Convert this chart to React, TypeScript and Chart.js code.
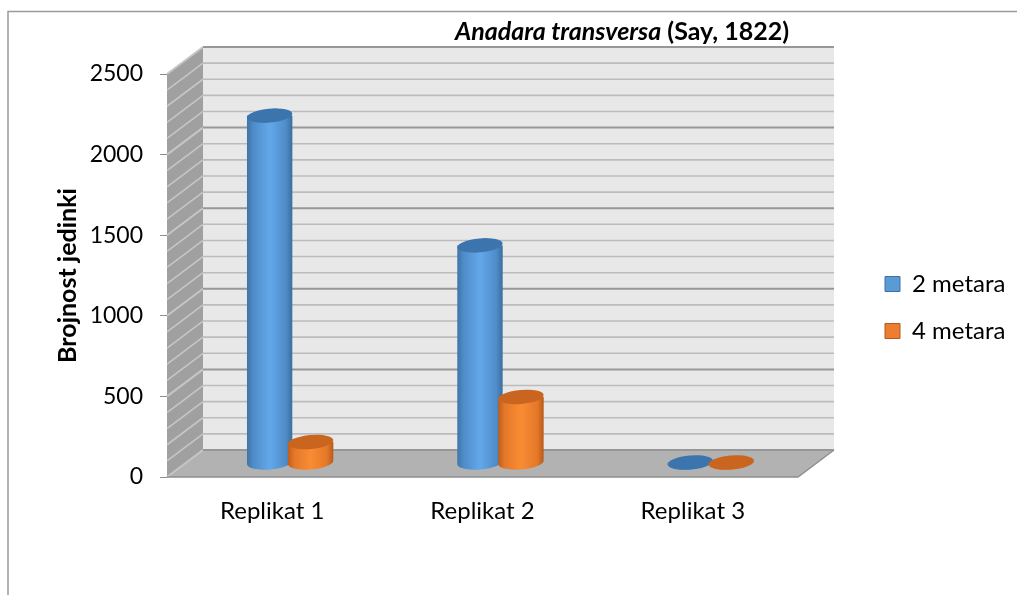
import React, { useEffect, useRef } from "react";
import { Chart, registerables } from "chart.js";

Chart.register(...registerables);

const categories = ["Replikat 1", "Replikat 2", "Replikat 3"];
const seriesNames = ["2 metara", "4 metara"];
const twoMetres = [2155, 1350, 3];
const fourMetres = [130, 410, 3];
const majorTicks = [0, 500, 1000, 1500, 2000, 2500];
const minorTicks = [100, 200, 300, 400, 600, 700, 800, 900, 1100, 1200, 1300, 1400, 1600, 1700, 1800, 1900, 2100, 2200, 2300, 2400];
const titleItalic = "Anadara transversa";
const titleRegular = " (Say, 1822)";
const yTitle = "Brojnost jedinki";

const FONT = "Lato, Carlito, sans-serif";
const DX = 36;
const DY = -27;
const BAR_DX = 18;
const BAR_DY = -14;
const TILT = -0.09;
const RY = 7;
const STOPS = [0, 0.14, 0.5, 0.86, 1];

const palette = [
  { stops: ["#3f74a8", "#4f8cc8", "#62a8ea", "#4f8cc8", "#3a6e9f"], top: "#3c74ad", solid: "#5B9BD5" },
  { stops: ["#c05d1a", "#e47829", "#f98c33", "#e47829", "#b85a1a"], top: "#c9651f", solid: "#ED7D31" },
];

const scenePlugin = {
  id: "scene",
  beforeDraw(chart: any) {
    const { ctx, scales, chartArea } = chart;
    const y = scales.y;
    const { left, right } = chartArea;
    const y0 = y.getPixelForValue(0);
    const yMax = y.getPixelForValue(2500);
    ctx.save();
    // frame
    ctx.strokeStyle = "#9a9a9a";
    ctx.lineWidth = 1.5;
    ctx.beginPath();
    ctx.moveTo(8, 595);
    ctx.lineTo(8, 11.5);
    ctx.lineTo(1017, 11.5);
    ctx.stroke();
    // back wall
    ctx.fillStyle = "#e8e8e8";
    ctx.fillRect(left + DX, yMax + DY, right - left, y0 - yMax);
    // side wall
    ctx.fillStyle = "#a0a0a0";
    ctx.beginPath();
    ctx.moveTo(left, yMax);
    ctx.lineTo(left + DX, yMax + DY);
    ctx.lineTo(left + DX, y0 + DY);
    ctx.lineTo(left, y0);
    ctx.closePath();
    ctx.fill();
    // floor
    ctx.fillStyle = "#b2b2b2";
    ctx.beginPath();
    ctx.moveTo(left, y0);
    ctx.lineTo(left + DX, y0 + DY);
    ctx.lineTo(right + DX, y0 + DY);
    ctx.lineTo(right, y0);
    ctx.closePath();
    ctx.fill();
    const line = (v: number, color: string, sideColor: string, w: number) => {
      const p = y.getPixelForValue(v);
      ctx.lineWidth = w;
      ctx.strokeStyle = sideColor;
      ctx.beginPath();
      ctx.moveTo(left, p);
      ctx.lineTo(left + DX, p + DY);
      ctx.stroke();
      ctx.strokeStyle = color;
      ctx.beginPath();
      ctx.moveTo(left + DX, p + DY);
      ctx.lineTo(right + DX, p + DY);
      ctx.stroke();
    };
    minorTicks.forEach((v) => line(v, "#bcbcbc", "#c6c6c6", 1.6));
    majorTicks.forEach((v) => line(v, "#979797", "#c6c6c6", 2));
    // floor edges
    ctx.lineWidth = 1.5;
    ctx.strokeStyle = "#8f8f8f";
    ctx.beginPath();
    ctx.moveTo(left, y0);
    ctx.lineTo(right, y0);
    ctx.lineTo(right + DX, y0 + DY);
    ctx.stroke();
    ctx.restore();
    // legend placement
    const legend = chart.legend;
    if (legend) {
      const w = legend.width;
      const h = legend.height;
      legend.left = 885 - 23;
      legend.top = 272 - 23;
      legend.right = legend.left + w + 20;
      legend.bottom = legend.top + h + 20;
    }
  },
  beforeDatasetsDraw(chart: any) {
    chart.ctx.save();
    chart.ctx.translate(BAR_DX, BAR_DY);
  },
  afterDatasetsDraw(chart: any) {
    const { ctx } = chart;
    [0, 1].forEach((d) => {
      const colors = palette[d];
      chart.getDatasetMeta(d).data.forEach((el: any) => {
        const { x, y, base, width } = el.getProps(["x", "y", "base", "width"], true);
        const rx = width / 2 + 2.2;
        const g = ctx.createLinearGradient(x - rx, 0, x + rx, 0);
        colors.stops.forEach((c: string, i: number) => g.addColorStop(STOPS[i], c));
        ctx.fillStyle = g;
        ctx.beginPath();
        ctx.moveTo(x - rx, y);
        ctx.lineTo(x - rx, base);
        ctx.ellipse(x, base, rx, RY, TILT, Math.PI, 0, true);
        ctx.lineTo(x + rx, y);
        ctx.closePath();
        ctx.fill();
        ctx.fillStyle = colors.top;
        ctx.beginPath();
        ctx.ellipse(x, y, rx, RY, TILT, 0, Math.PI * 2);
        ctx.fill();
      });
    });
    ctx.restore();
  },
  afterDraw(chart: any) {
    const { ctx } = chart;
    ctx.save();
    ctx.fillStyle = "#000";
    ctx.textBaseline = "alphabetic";
    ctx.textAlign = "left";
    ctx.font = `italic bold 25px ${FONT}`;
    ctx.fillText(titleItalic, 455, 40);
    const w = ctx.measureText(titleItalic).width;
    ctx.font = `bold 25px ${FONT}`;
    ctx.fillText(titleRegular, 455 + w, 40);
    ctx.restore();
  },
};

export default function App() {
  const ref = useRef<HTMLCanvasElement>(null);
  useEffect(() => {
    const chart = new Chart(ref.current!, {
      type: "bar",
      data: {
        labels: categories,
        datasets: [
          { label: seriesNames[0], data: twoMetres, backgroundColor: palette[0].solid, borderColor: "#41719c", borderWidth: 1, barThickness: 41, clip: false } as any,
          { label: seriesNames[1], data: fourMetres, backgroundColor: palette[1].solid, borderColor: "#ae5a21", borderWidth: 1, barThickness: 41, clip: false } as any,
        ],
      },
      plugins: [scenePlugin],
      options: {
        responsive: false,
        animation: false,
        layout: { padding: { left: 53, right: 219, top: 74, bottom: 58 } },
        plugins: {
          tooltip: { enabled: false },
          title: { display: false },
          legend: {
            position: "chartArea" as any,
            align: "start",
            labels: {
              boxWidth: 15,
              boxHeight: 15,
              padding: 23,
              color: "#000",
              font: { family: FONT, size: 24 },
            },
          },
        },
        scales: {
          x: {
            grid: { display: false },
            border: { display: false },
            ticks: { color: "#000", font: { family: FONT, size: 24 }, padding: 12 },
            afterFit: (s: any) => { s.height = 60; },
          },
          y: {
            min: 0,
            max: 2500,
            grid: { drawOnChartArea: false, color: "#8f8f8f", tickLength: 7 },
            border: { display: false },
            ticks: {
              stepSize: 500,
              color: "#000",
              font: { family: FONT, size: 23 },
              padding: 17,
              callback: (v: any) => String(v),
            },
            title: { display: true, text: yTitle, color: "#000", font: { family: FONT, size: 25, weight: "bold" }, padding: 0 },
            afterFit: (s: any) => { s.width = 114; },
          },
        },
      },
    });
    return () => chart.destroy();
  }, []);
  return (
    <canvas
      ref={ref}
      width={1017}
      height={595}
      style={{ position: "absolute", left: 0, top: 0, display: "block", filter: "blur(0.4px)" }}
    />
  );
}
